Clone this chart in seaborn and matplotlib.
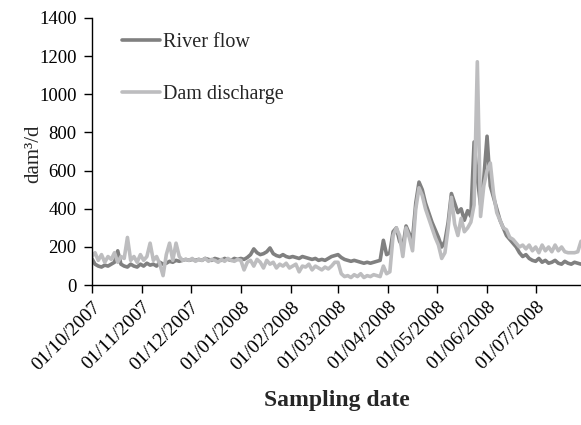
import matplotlib
matplotlib.use("Agg")
import matplotlib.pyplot as plt
import matplotlib.dates as mdates
import numpy as np
import pandas as pd
import seaborn as sns

# Sampling every second day, 01/10/2007 - 31/07/2008
dates = pd.date_range("2007-10-01", "2008-07-31", freq="2D")

river_flow = [
    # Oct
    140, 110, 100, 95, 105, 100, 110, 120, 180, 110, 100, 95, 110, 100, 95, 110,
    # Nov
    100, 115, 105, 110, 100, 120, 110, 115, 125, 120, 130, 125, 130, 135, 130,
    # Dec
    135, 130, 135, 130, 140, 135, 130, 140, 135, 130, 140, 135, 130, 140, 135,
    # Jan
    140, 135, 145, 160, 190, 170, 160, 165, 175, 195, 165, 155, 150, 160, 150, 145,
    # Feb
    150, 145, 140, 150, 145, 140, 135, 140, 130, 135, 130, 140, 150, 155,
    # Mar
    160, 145, 135, 130, 125, 130, 125, 120, 115, 120, 115, 120, 125, 130, 235, 160,
    # Apr
    170, 280, 300, 230, 200, 310, 270, 240, 430, 540, 500, 430, 380, 330, 290,
    # May
    250, 200, 230, 330, 480, 430, 380, 400, 340, 390, 360, 750, 560, 420, 560,
    # Jun
    780, 520, 460, 400, 340, 300, 260, 240, 220, 200, 170, 150, 160, 140, 130,
    # Jul
    125, 140, 120, 130, 115, 120, 130, 115, 110, 125, 115, 110, 120, 115, 110, 115,
]

dam_discharge = [
    # Oct
    150, 170, 130, 160, 120, 150, 135, 170, 120, 150, 140, 250, 130, 150, 120, 160,
    # Nov
    130, 150, 220, 130, 150, 110, 50, 160, 220, 130, 220, 150, 130, 135, 130,
    # Dec
    140, 125, 135, 130, 140, 125, 135, 130, 120, 135, 125, 140, 130, 125, 135,
    # Jan
    130, 80, 120, 130, 100, 135, 120, 90, 130, 110, 120, 90, 110, 100, 115, 90,
    # Feb
    100, 110, 70, 100, 95, 110, 80, 100, 90, 80, 95, 85, 100, 120,
    # Mar
    120, 60, 45, 50, 40, 55, 45, 60, 40, 50, 45, 55, 50, 45, 100, 60,
    # Apr
    70, 260, 300, 260, 150, 300, 250, 180, 400, 510, 470, 400, 350, 300, 250,
    # May
    210, 140, 170, 300, 460, 320, 260, 350, 280, 300, 330, 420, 1170, 360, 520,
    # Jun
    600, 640, 480, 380, 340, 300, 290, 250, 240, 220, 200, 210, 190, 210, 180,
    # Jul
    200, 170, 210, 180, 200, 175, 210, 180, 200, 175, 170, 170, 170, 175, 230, 220,
]

series_names = ["River flow", "Dam discharge"]
colors = ["#808080", "#bdbdbf"]

df = pd.concat([
    pd.DataFrame({"date": dates, "value": river_flow, "series": series_names[0]}),
    pd.DataFrame({"date": dates, "value": dam_discharge, "series": series_names[1]}),
])

sns.set_style("ticks")
plt.rcParams["font.family"] = ["Liberation Serif", "DejaVu Serif"]

fig = plt.figure(figsize=(5.81, 4.25), dpi=100)
ax = fig.add_axes([0.158, 0.329, 0.842, 0.629])

sns.lineplot(data=df, x="date", y="value", hue="series", hue_order=series_names,
             palette=colors, linewidth=2.6, ax=ax)

ax.set_ylim(0, 1400)
ax.set_yticks(np.arange(0, 1401, 200))
ax.set_xlim(pd.Timestamp("2007-10-01"), pd.Timestamp("2008-07-29"))
ax.xaxis.set_major_locator(mdates.MonthLocator())
ax.xaxis.set_major_formatter(mdates.DateFormatter("%d/%m/%Y"))
plt.setp(ax.get_xticklabels(), rotation=45, ha="right", rotation_mode="anchor")

ax.tick_params(axis="x", labelsize=14, colors="black", length=6, width=1)
ax.tick_params(axis="y", labelsize=13.5, colors="black", length=6, width=1, pad=5)
ax.set_xlabel("Sampling date", fontsize=17, fontweight="bold", labelpad=12)
ax.set_ylabel("dam³/d", fontsize=15)
ax.yaxis.set_label_coords(-0.1, 0.49)

for side in ["top", "right"]:
    ax.spines[side].set_visible(False)
for side in ["left", "bottom"]:
    ax.spines[side].set_color("black")
    ax.spines[side].set_linewidth(1)

ax.legend(frameon=False, loc="upper left", bbox_to_anchor=(0.025, 1.01), fontsize=14.5,
          handlelength=1.9, handletextpad=0.15, labelspacing=1.6)

fig.savefig("out.png", dpi=100)
